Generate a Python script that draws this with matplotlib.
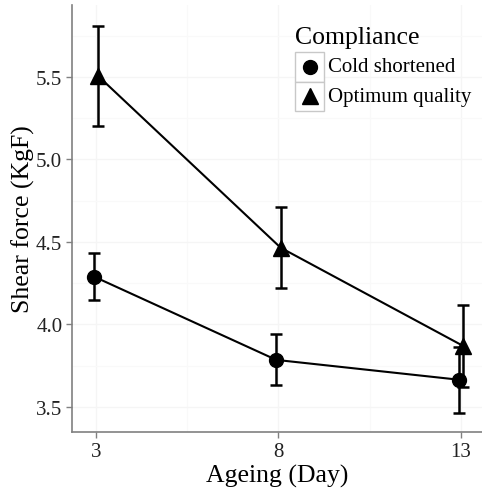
import matplotlib
matplotlib.use("Agg")
import matplotlib.pyplot as plt
from matplotlib.lines import Line2D
from matplotlib.patches import Rectangle
import numpy as np

plt.rcParams['font.family'] = ['Liberation Serif', 'DejaVu Serif']

days = [3, 8, 13]
cold_mean = [4.29, 3.785, 3.665]
cold_err = [0.14, 0.155, 0.20]
opt_mean = [5.505, 4.465, 3.87]
opt_err = [0.305, 0.245, 0.25]
series_names = ["Cold shortened", "Optimum quality"]
legend_title = "Compliance"
yticks = [3.5, 4.0, 4.5, 5.0, 5.5]

fig = plt.figure(figsize=(4.82, 4.89), dpi=100)
ax = fig.add_axes([72/482, 56/489, 410/482, 427/489])

dodge = 0.06
xc = np.array(days) - dodge
xo = np.array(days) + dodge

ax.plot(xc, cold_mean, color='black', lw=1.5, zorder=3)
ax.plot(xo, opt_mean, color='black', lw=1.5, zorder=3)
ax.errorbar(xc, cold_mean, yerr=cold_err, fmt='none', ecolor='black', elinewidth=1.8, capsize=4, capthick=1.8, zorder=3)
ax.errorbar(xo, opt_mean, yerr=opt_err, fmt='none', ecolor='black', elinewidth=1.8, capsize=4, capthick=1.8, zorder=3)
ax.plot(xc, cold_mean, 'o', color='black', ms=10, zorder=4)
ax.plot(xo, opt_mean, '^', color='black', ms=11, zorder=4)

ax.set_xlim(2.34, 13.58)
ax.set_ylim(3.348, 5.936)
ax.set_xticks(days)
ax.set_xticklabels([str(d) for d in days])
ax.set_yticks(yticks)
ax.set_yticklabels([f"{v:.1f}" for v in yticks])
ax.set_xticks([5.5, 10.5], minor=True)
ax.set_yticks([3.75, 4.25, 4.75, 5.25, 5.75], minor=True)
ax.grid(True, which='major', color='#f5f5f5', lw=1.0, zorder=0)
ax.grid(True, which='minor', color='#f9f9f9', lw=0.8, zorder=0)
ax.tick_params(which='minor', length=0)
ax.tick_params(which='major', length=4, width=1, color='#808080', labelsize=15, labelcolor='#222222', pad=3)
for s in ['top', 'right']:
    ax.spines[s].set_visible(False)
for s in ['left', 'bottom']:
    ax.spines[s].set_color('#808080')
    ax.spines[s].set_linewidth(1.2)

ax.set_xlabel("Ageing (Day)", fontsize=18.5, labelpad=2)
ax.set_ylabel("Shear force (KgF)", fontsize=18.5, labelpad=0.5)

# Legend (ggplot style)
fig.text(295/482, 1 - 38/489, legend_title, fontsize=18.5, va='center', ha='left')
markers = ['o', '^']
msizes = [10, 11]
for i, (name, m, msz) in enumerate(zip(series_names, markers, msizes)):
    top = 53 + i * 29.5
    rect = Rectangle((295/482, 1 - (top + 29.5)/489), 29/482, 29.5/489,
                     transform=fig.transFigure, facecolor='white', edgecolor='#c8c8c8', lw=1.0)
    fig.add_artist(rect)
    cy = 1 - (top + 14.75)/489
    fig.add_artist(Line2D([309.5/482], [cy], marker=m, ms=msz, color='black', linestyle='none',
                          transform=fig.transFigure))
    fig.text(328/482, cy, name, fontsize=15, va='center', ha='left')

fig.savefig("out.png", dpi=100)
